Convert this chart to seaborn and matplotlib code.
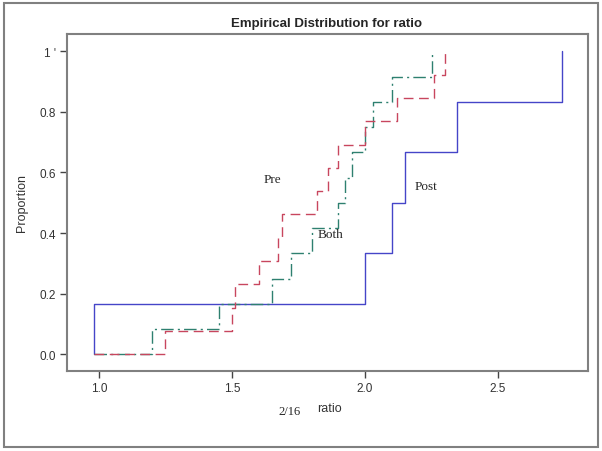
import numpy as np
import pandas as pd
import matplotlib
matplotlib.use("Agg")
import matplotlib.pyplot as plt
from matplotlib.patches import Rectangle
import seaborn as sns

# ratio values per group
pre = [1.248, 1.50, 1.51, 1.60, 1.674, 1.687, 1.818, 1.86, 1.90, 2.0, 2.12, 2.26, 2.30]
both = [1.20, 1.45, 1.65, 1.72, 1.80, 1.90, 1.925, 1.95, 2.0, 2.03, 2.10, 2.25]
post = [0.98, 2.0, 2.10, 2.15, 2.345, 2.74]

x_ticks = [1.0, 1.5, 2.0, 2.5]
y_ticks = [0.0, 0.2, 0.4, 0.6, 0.8, 1.0]
y_ticklabels = ["0.0", "0.2", "0.4", "0.6", "0.8", "1 '"]

start = min(pre + both + post)


def ecdf(vals):
    v = np.sort(np.array(vals))
    n = len(v)
    xs = np.r_[start, v]
    ys = np.r_[0.0, np.arange(1, n + 1) / n]
    return pd.DataFrame({"ratio": xs, "Proportion": ys})


sns.set_style("white")
plt.rcParams["font.family"] = ["Liberation Sans", "DejaVu Sans"]

fig = plt.figure(figsize=(6.02, 4.52), dpi=100)
ax = fig.add_axes([67 / 602, 1 - 372 / 452, 521 / 602, 337 / 452])

sns.lineplot(data=ecdf(post), x="ratio", y="Proportion", drawstyle="steps-post",
             estimator=None, sort=False, color="#4545c8", lw=1.0, ax=ax)
sns.lineplot(data=ecdf(both), x="ratio", y="Proportion", drawstyle="steps-post",
             estimator=None, sort=False, color="#2e8070", lw=1.0, ax=ax)
ax.lines[-1].set_dashes([9, 3, 1.5, 3])
sns.lineplot(data=ecdf(pre), x="ratio", y="Proportion", drawstyle="steps-post",
             estimator=None, sort=False, color="#c8465e", lw=1.0, ax=ax)
ax.lines[-1].set_dashes([7, 4])

ax.set_xlim(0.88, 2.838)
ax.set_ylim(-0.055, 1.057)
ax.set_xticks(x_ticks)
ax.set_xticklabels([f"{t:.1f}" for t in x_ticks])
ax.set_yticks(y_ticks)
ax.set_yticklabels(y_ticklabels)
ax.tick_params(axis="both", which="major", direction="out", length=5, width=1,
               color="#444444", labelsize=8.5, labelcolor="#333333", pad=3)
ax.xaxis.set_ticks_position("bottom")
ax.yaxis.set_ticks_position("left")
for s in ax.spines.values():
    s.set_color("#808080")
    s.set_linewidth(1.5)

ax.set_xlabel("")
ax.set_ylabel("Proportion", fontsize=9, color="#333333", labelpad=8)
fig.text(329 / 602, 1 - 409 / 452, "ratio", ha="center", va="center",
         fontsize=9, color="#333333")
fig.text(327 / 602, 1 - 24 / 452, "Empirical Distribution for ratio",
         ha="center", va="center", fontsize=9.5, fontweight="bold")

serif = ["Liberation Serif", "DejaVu Serif"]
ax.text(1.651, 0.58, "Pre", family=serif, fontsize=9.5, ha="center", va="center")
ax.text(1.872, 0.396, "Both", family=serif, fontsize=9.5, ha="center", va="center")
ax.text(2.228, 0.556, "Post", family=serif, fontsize=9.5, ha="center", va="center")
fig.text(290 / 602, 1 - 412 / 452, "2/16", family=serif, fontsize=9,
         ha="center", va="center")

fig.patches.append(Rectangle((4 / 602, 4 / 452), 594 / 602, 444 / 452,
                             transform=fig.transFigure, fill=False,
                             edgecolor="#808080", lw=1.5))

fig.savefig("out.png", dpi=100)
